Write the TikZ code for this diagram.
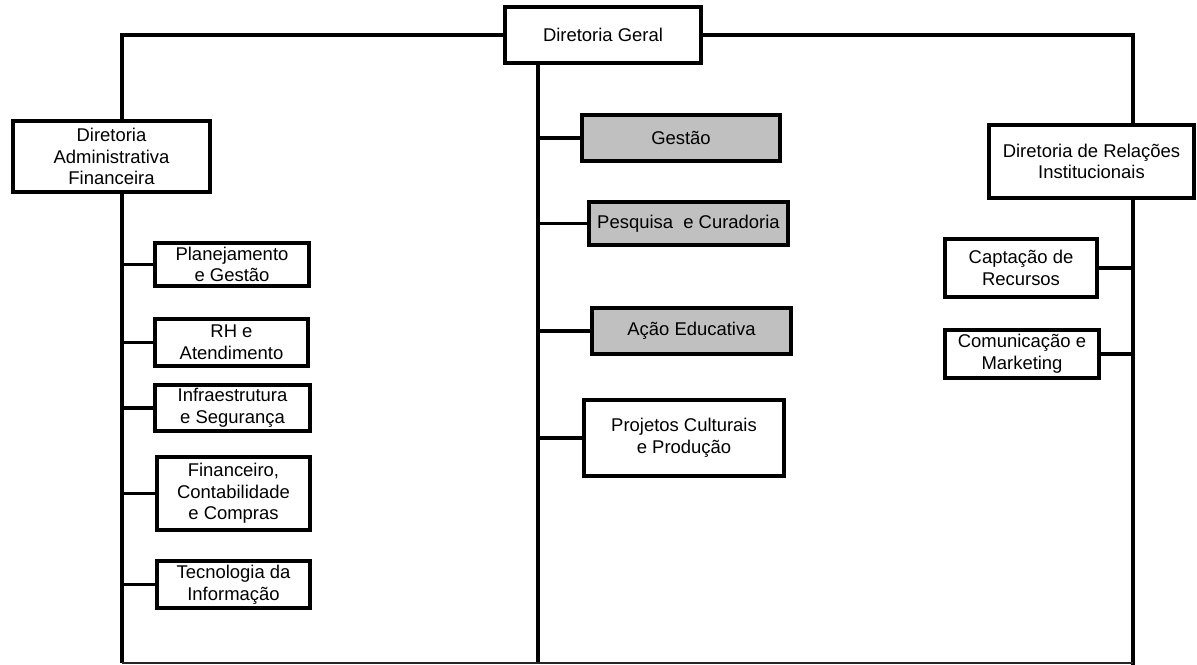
\documentclass[tikz,border=0pt]{standalone}
\usepackage{fontspec}
\setmainfont{Liberation Sans}
\usepackage{tikz}
\usetikzlibrary{calc}
\definecolor{boxgrey}{RGB}{192,192,192}

\begin{document}
\begin{tikzpicture}[x=0.02cm,y=-0.02cm,
        box/.style={draw, line width=2.2pt, fill=white, align=center, inner sep=0pt,
            font=\fontsize{10.5}{12.3}\selectfont},
        greybox/.style={box, fill=boxgrey},
        link/.style={line width=1.9pt}]
            \useasboundingbox (0,0) rectangle (1197,665);

            \node[box, minimum width=3.92cm, minimum height=1.12cm] at (603,35) (DG) {Diretoria Geral};
            \node[box, minimum width=3.94cm, minimum height=1.42cm] at (111.5,156.5) (DAF) {Diretoria\\Administrativa\\Financeira};
            \node[box, minimum width=4.10cm, minimum height=1.46cm] at (1091.5,161.5) (DRI) {Diretoria de Relações\\Institucionais};

            \node[box, minimum width=3.08cm, minimum height=0.86cm] at (232,264.5) (ADM1) {Planejamento\\e Gestão};
            \node[box, minimum width=3.06cm, minimum height=0.94cm] at (231.5,342.5) (ADM2) {RH e\\Atendimento};
            \node[box, minimum width=3.10cm, minimum height=0.92cm] at (232.5,408) (ADM3) {Infraestrutura\\e Segurança};
            \node[box, minimum width=3.06cm, minimum height=1.46cm] at (233.5,493.5) (ADM4) {Financeiro,\\Contabilidade\\e Compras};
            \node[box, minimum width=3.06cm, minimum height=0.94cm] at (233.5,584.5) (ADM5) {Tecnologia da\\Informação};

            \node[greybox, minimum width=3.96cm, minimum height=0.92cm] at (681,138) (CEN1) {Gestão};
            \node[greybox, minimum width=3.98cm, minimum height=0.86cm] at (688.5,223.5) (CEN2) {Pesquisa\ \ e Curadoria};
            \node[greybox, minimum width=3.98cm, minimum height=0.92cm] at (691.5,331) (CEN3) {Ação Educativa};
            \node[box, minimum width=4.00cm, minimum height=1.52cm] at (684,438) (CEN4) {Projetos Culturais\\e Produção};

            \node[box, minimum width=3.04cm, minimum height=1.16cm] at (1021,268) (REL1) {Captação de\\Recursos};
            \node[box, minimum width=3.08cm, minimum height=0.96cm] at (1022,354) (REL2) {Comunicação e\\Marketing};

            \coordinate (L) at (122,663);
            \coordinate (M) at (538,663);
            \coordinate (R) at (1133,665);

            \draw[link] (DG.west) -| (DAF.north -| L);
            \draw[link] (DAF.south -| L) -- (L);
            \foreach \n in {ADM1,ADM2,ADM3,ADM4,ADM5}
                \draw[link] (\n.west) -- (\n.west -| L);

            \draw[link] (DG.south -| M) -- (M);
            \foreach \n in {CEN1,CEN2,CEN3,CEN4}
                \draw[link] (\n.west) -- (\n.west -| M);

            \draw[link] (DG.east) -| (DRI.north -| R);
            \draw[link] (DRI.south -| R) -- (R);
            \foreach \n in {REL1,REL2}
                \draw[link] (\n.east) -- (\n.east -| R);

            \draw[line width=1.1pt, black!85] (L) -- (L -| R);
        \end{tikzpicture}
\end{document}
